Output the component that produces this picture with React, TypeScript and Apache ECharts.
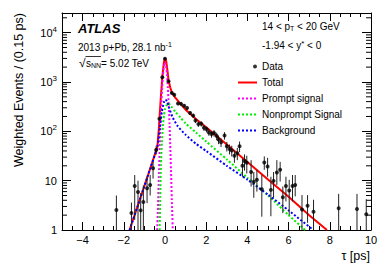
import { useEffect, useRef } from 'react';
import * as echarts from 'echarts';

// ---- data points (tau [ps], weighted events, error band low/high) ----
const tau = [-2.36, -1.63, -1.47, -1.31, -1.18, -1.05, -0.87, -0.72, -0.58, -0.43, -0.27, -0.13, 0.0, 0.17, 0.33, 0.45, 0.63, 0.78, 0.93, 1.07, 1.22, 1.37, 1.48, 1.62, 1.76, 1.89, 2.02, 2.13, 2.26, 2.38, 2.51, 2.6, 2.72, 2.89, 3.0, 3.13, 3.24, 3.37, 3.51, 3.62, 3.76, 3.86, 3.97, 4.18, 4.31, 4.46, 4.7, 4.82, 4.98, 5.14, 5.27, 5.43, 5.59, 5.72, 5.87, 6.03, 6.19, 6.32, 6.65, 6.92, 7.21, 8.43, 9.32, 9.77];
const events = [2.55, 2.2, 7.8, 5.9, 2.5, 3.7, 7.0, 8.2, 17.9, 42, 180, 1250, 2950, 1030, 600, 550, 365, 360, 330, 297, 235, 208, 165, 140, 142, 118, 110, 95, 88, 92, 80, 68, 60, 82, 50, 44, 41, 32, 36, 50, 20, 25, 23, 15, 9.5, 10.4, 6.7, 23.4, 19.4, 6.5, 9.9, 14.6, 16.6, 4.6, 7.8, 6.3, 7.8, 8.2, 2.6, 3.1, 2.35, 2.76, 2.67, 2.08];
const errLo = [0.5, 0.5, 1.6, 1.0, 0.5, 1.0, 3.5, 5.0, 11, 34, 165, 1200, 2870, 985, 568, 518, 340, 335, 306, 274, 214, 188, 147, 123, 125, 102, 95, 81, 74, 78, 66, 55, 48, 68, 39, 34, 31, 23, 26, 38, 12, 16, 14, 7.6, 4.5, 6.0, 1.86, 16.6, 12, 1.9, 4.5, 8.2, 9.6, 2.2, 3.8, 2.0, 3.8, 4.8, 0.5, 1.4, 0.5, 0.5, 0.5, 0.5];
const errHi = [5.0, 3.6, 13, 10, 5.6, 8, 12, 13, 24, 51, 196, 1300, 3030, 1075, 632, 582, 390, 385, 354, 320, 256, 228, 183, 157, 159, 134, 125, 109, 102, 106, 94, 81, 72, 96, 61, 54, 51, 41, 46, 62, 28, 34, 32, 26, 15, 16.6, 13, 31, 29, 12, 15, 26, 24, 7.6, 12, 10.4, 13, 13, 5.1, 5.1, 4.1, 5.4, 5.4, 4.2];

// ---- fit curves ----
const totalTau = [-1.72, -1.2, -0.7, -0.37, -0.3, -0.27, -0.2, -0.13, -0.06, 0.0, 0.06, 0.12, 0.17, 0.25, 0.33, 0.5, 0.75, 1.0, 1.5, 2.0, 3.0, 4.0, 5.0, 6.0, 7.0, 7.86];
const totalY = [1, 4.4, 18.5, 49, 110, 180, 500, 1250, 2400, 3100, 2600, 1700, 1100, 780, 620, 480, 360, 275, 178, 121, 54, 24, 10.6, 4.7, 2.0, 1];
const promptTau = [-0.38, -0.34, -0.3, -0.26, -0.22, -0.18, -0.14, -0.1, -0.05, 0, 0.05, 0.1, 0.14, 0.18, 0.22, 0.26, 0.3, 0.34, 0.38];
const promptY = [1, 3, 12, 45, 140, 350, 760, 1350, 2100, 2500, 2100, 1350, 760, 350, 140, 45, 12, 3, 1];
const nonpromptTau = [-0.26, -0.23, -0.2, -0.15, -0.1, -0.05, 0, 0.08, 0.15, 0.22, 0.3, 0.5, 0.75, 1.0, 1.5, 2.0, 3.0, 4.0, 5.0, 6.0, 6.8];
const nonpromptY = [1, 5, 20, 60, 130, 210, 280, 340, 365, 355, 320, 250, 190, 145, 95, 62, 27, 11.5, 5.0, 2.0, 1];
const bkgTau = [-1.72, -1.2, -0.7, -0.37, -0.25, -0.15, -0.05, 0.02, 0.1, 0.2, 0.35, 0.6, 1.0, 1.5, 2.0, 3.0, 4.0, 5.0, 6.0, 7.2];
const bkgY = [1, 4.4, 18.5, 49, 120, 250, 390, 440, 400, 300, 200, 130, 85, 56, 40, 20, 10.5, 5.2, 2.5, 1];

// ---- axis ticks ----
const xMajorTicks = [-4, -2, 0, 2, 4, 6, 8, 10];
const yMinorTicks = [2, 3, 4, 5, 6, 7, 8, 9, 20, 30, 40, 50, 60, 70, 80, 90, 200, 300, 400, 500, 600, 700, 800, 900, 2000, 3000, 4000, 5000, 6000, 7000, 8000, 9000, 20000];

const X_MIN = -5;
const X_MAX = 10;
const Y_MIN = 1;
const Y_MAX = 25000;

const FONT = '"Liberation Sans", Arial, Helvetica, sans-serif';

const zip = (a: number[], b: number[]) => a.map((v, i) => [v, b[i]]);

export default function App() {
  const ref = useRef<HTMLDivElement>(null);

  useEffect(() => {
    const chart = echarts.init(ref.current!, null, { renderer: 'svg' });

    const lineAxis = { show: true, onZero: false, lineStyle: { color: '#000', width: 1 } };
    const xBase = {
      type: 'value',
      min: X_MIN,
      max: X_MAX,
      splitLine: { show: false },
      axisLine: lineAxis,
    };
    const yBase = {
      type: 'log',
      logBase: 10,
      min: Y_MIN,
      max: Y_MAX,
      splitLine: { show: false },
      axisLine: lineAxis,
    };

    const xLabelFmt = (v: number) => {
      if (v === X_MIN || Math.abs(v % 2) > 1e-9) return '';
      return v < 0 ? '\u2212' + Math.abs(v) : String(v);
    };
    const yLabelFmt = (v: number) => {
      const e = Math.log10(v);
      if (Math.abs(e - Math.round(e)) > 1e-6) return '';
      const n = Math.round(e);
      if (n === 0) return '1';
      if (n === 1) return '10';
      return '10{s|' + n + '}';
    };

    const dashed = (color: string) => ({ color, width: 2, type: [2, 2] as any });
    const hiddenSymbol = { opacity: 0 };

    const option: any = {
      animation: false,
      grid: { left: 62, top: 13, right: 19, bottom: 45, containLabel: false },
      xAxis: [
        {
          ...xBase,
          position: 'bottom',
          interval: 0.5,
          axisTick: { show: true, inside: true, length: 4, lineStyle: { color: '#000' } },
          axisLabel: { show: true, formatter: xLabelFmt, fontSize: 11, fontFamily: FONT, color: '#000', margin: 4, hideOverlap: false },
        },
        {
          ...xBase,
          position: 'bottom',
          axisLine: { show: false, onZero: false },
          axisTick: { show: true, inside: true, length: 8, customValues: xMajorTicks, lineStyle: { color: '#000' } },
          axisLabel: { show: false },
        },
        {
          ...xBase,
          position: 'top',
          interval: 0.5,
          axisTick: { show: true, inside: true, length: 4, lineStyle: { color: '#000' } },
          axisLabel: { show: false },
        },
        {
          ...xBase,
          position: 'top',
          axisLine: { show: false, onZero: false },
          axisTick: { show: true, inside: true, length: 8, customValues: xMajorTicks, lineStyle: { color: '#000' } },
          axisLabel: { show: false },
        },
      ],
      yAxis: [
        {
          ...yBase,
          position: 'left',
          axisTick: { show: true, inside: true, length: 9, lineStyle: { color: '#000' } },
          axisLabel: {
            show: true,
            formatter: yLabelFmt,
            fontSize: 11,
            fontFamily: FONT,
            color: '#000',
            margin: 5,
            rich: { s: { fontSize: 8, fontFamily: FONT, color: '#000', padding: [0, 0, 7, 0] } },
          },
        },
        {
          ...yBase,
          position: 'right',
          axisTick: { show: true, inside: true, length: 9, lineStyle: { color: '#000' } },
          axisLabel: { show: false },
        },
      ],
      legend: {
        orient: 'vertical',
        left: 237,
        top: 61.5,
        padding: 0,
        itemWidth: 19,
        itemHeight: 4,
        itemGap: 6,
        selectedMode: false,
        textStyle: { fontSize: 10, fontFamily: FONT, color: '#000' },
        data: [
          { name: 'Data', icon: 'path://M0,0L0,0M15,2a2,2 0 1,1 4,0a2,2 0 1,1 -4,0M19,4L19,4' },
          { name: 'Total', itemStyle: hiddenSymbol },
          { name: 'Prompt signal', itemStyle: hiddenSymbol },
          { name: 'Nonprompt Signal', itemStyle: hiddenSymbol },
          { name: 'Background', itemStyle: hiddenSymbol },
        ],
      },
      graphic: [
        { type: 'text', x: 78, y: 28, style: { text: 'ATLAS', font: 'italic bold 13px ' + FONT, fill: '#000', verticalAlign: 'middle' } },
        {
          type: 'text', x: 78, y: 47,
          style: {
            text: '2013 p+Pb, 28.1 nb{s|-1}', fontSize: 10, fontFamily: FONT, fill: '#000', verticalAlign: 'middle',
            rich: { s: { fontSize: 7, fontFamily: FONT, padding: [0, 0, 6, 0] } },
          },
        },
        { type: 'text', x: 79, y: 63, style: { text: '\u221A', fontSize: 12, fontFamily: FONT, fill: '#000', verticalAlign: 'middle' } },
        { type: 'line', shape: { x1: 85.5, y1: 56.5, x2: 101, y2: 56.5 }, style: { stroke: '#000', lineWidth: 0.8 } },
        {
          type: 'text', x: 86, y: 63,
          style: {
            text: 's{b|NN}= 5.02 TeV', fontSize: 10, fontFamily: FONT, fill: '#000', verticalAlign: 'middle',
            rich: { b: { fontSize: 7, fontFamily: FONT, padding: [5, 0, 0, 0] } },
          },
        },
        {
          type: 'text', x: 262, y: 26,
          style: {
            text: '14 < p{b|T} < 20 GeV', fontSize: 10, fontFamily: FONT, fill: '#000', verticalAlign: 'middle',
            rich: { b: { fontSize: 7, fontFamily: FONT, padding: [5, 0, 0, 0] } },
          },
        },
        {
          type: 'text', x: 262, y: 45.5,
          style: {
            text: '-1.94 < y{s|*} < 0', fontSize: 10, fontFamily: FONT, fill: '#000', verticalAlign: 'middle',
            rich: { s: { fontSize: 8, fontFamily: FONT, padding: [0, 0, 4, 0] } },
          },
        },
        {
          type: 'text', x: 18.5, y: 13, rotation: Math.PI / 2,
          style: { text: 'Weighted Events / (0.15 ps)', fontSize: 12.5, fontFamily: FONT, fill: '#000', align: 'right', verticalAlign: 'middle' },
        },
        {
          type: 'text', x: 370, y: 256,
          style: { text: '\u03C4 [ps]', fontSize: 12.5, fontFamily: FONT, fill: '#000', align: 'right', verticalAlign: 'middle' },
        },
      ],
      series: [
        {
          name: 'YMinorTicks',
          type: 'custom',
          silent: true,
          xAxisIndex: 0,
          yAxisIndex: 0,
          data: yMinorTicks.map((v) => [X_MIN, v]),
          encode: { x: 0, y: 1 },
          renderItem: (params: any, api: any) => {
            const cs = params.coordSys;
            const y = api.coord([X_MIN, api.value(1)])[1];
            return {
              type: 'group',
              children: [
                { type: 'line', shape: { x1: cs.x, y1: y, x2: cs.x + 5, y2: y }, style: { stroke: '#000', lineWidth: 1 } },
                { type: 'line', shape: { x1: cs.x + cs.width - 5, y1: y, x2: cs.x + cs.width, y2: y }, style: { stroke: '#000', lineWidth: 1 } },
              ],
            };
          },
        },
        {
          name: 'Total', type: 'line', data: zip(totalTau, totalY), symbol: 'none', showSymbol: false,
          lineStyle: { color: '#ff0000', width: 2 }, itemStyle: { color: '#ff0000' }, z: 3,
        },
        {
          name: 'Prompt signal', type: 'line', data: zip(promptTau, promptY), symbol: 'none', showSymbol: false, smooth: 0.2,
          lineStyle: dashed('#ff00ff'), itemStyle: { color: '#ff00ff' }, z: 3,
        },
        {
          name: 'Nonprompt Signal', type: 'line', data: zip(nonpromptTau, nonpromptY), symbol: 'none', showSymbol: false, smooth: 0.2,
          lineStyle: dashed('#00ee00'), itemStyle: { color: '#00ee00' }, z: 3,
        },
        {
          name: 'Background', type: 'line', data: zip(bkgTau, bkgY), symbol: 'none', showSymbol: false, smooth: 0.2,
          lineStyle: dashed('#0000ff'), itemStyle: { color: '#0000ff' }, z: 3,
        },
        {
          name: 'DataErrors',
          type: 'custom',
          silent: true,
          z: 4,
          data: tau.map((t, i) => [t, errLo[i], errHi[i]]),
          encode: { x: 0, y: [1, 2] },
          renderItem: (params: any, api: any) => {
            const cs = params.coordSys;
            const x = api.value(0);
            const top = api.coord([x, api.value(2)]);
            const bot = api.coord([x, api.value(1)]);
            const y1 = Math.max(top[1], cs.y);
            const y2 = Math.min(bot[1], cs.y + cs.height);
            return { type: 'line', shape: { x1: top[0], y1, x2: top[0], y2 }, style: { stroke: '#222', lineWidth: 1 } };
          },
        },
        {
          name: 'Data', type: 'scatter', data: zip(tau, events), symbol: 'circle', symbolSize: 4,
          itemStyle: { color: '#000' }, z: 5,
        },
      ],
    };

    chart.setOption(option);
    return () => chart.dispose();
  }, []);

  return <div ref={ref} style={{ position: 'absolute', left: 0, top: 0, width: 390, height: 275, background: '#fff' }} />;
}
